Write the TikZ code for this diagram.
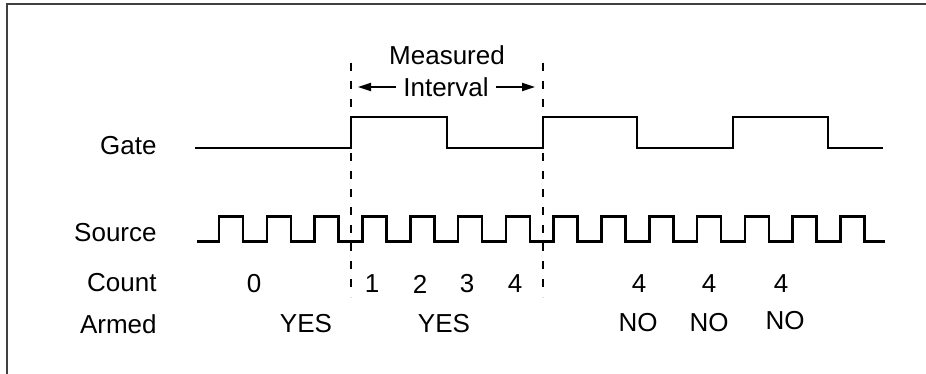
\documentclass[tikz,border=0pt]{standalone}
\usepackage{fontspec}
\setmainfont{Liberation Sans}
\usetikzlibrary{arrows.meta}
\begin{document}
\begin{tikzpicture}[x=0.5pt,y=-0.5pt,>={Triangle[length=6.5pt,width=4pt]},
		every node/.style={font=\fontsize{13}{15}\selectfont},
		wave/.style={line width=1.3pt},
		cutline/.style={line width=0.6pt,dash pattern=on 4pt off 5pt},
		lbl/.style={anchor=east,inner sep=0pt}]
	\useasboundingbox (0,0) rectangle (926,374);
	% frame
	\draw[line width=0.8pt, black!75] (7,374) -- (7,4) -- (926,4);
	% row labels
	\node[lbl] (gate) at (157,146) {Gate};
	\node[lbl] (source) at (157,233) {Source};
	\node[lbl] (count) at (157,283) {Count};
	\node[lbl] (armed) at (157,324) {Armed};
	% gate signal
	\draw[wave] (195,148) -- (351,148) -- (351,117) -- (447,117) -- (447,148) -- (543,148) -- (543,117)
		-- (637,117) -- (637,148) -- (733,148) -- (733,117) -- (828,117) -- (828,148) -- (883,148);
	% source clock
	\draw[wave] (197,241.5) \foreach \k in {0,...,13} {
			-- ({219+47.8*\k},241.5) -- ++(0,-25) -- ++(24,0) -- ++(0,25)} -- (885,241.5);
	% interval markers
	\draw[cutline] (351,63) -- (351,297);
	\draw[cutline] (543,63) -- (543,297);
	\node (meas) at (447,55) {Measured};
	\node (intv) at (446,87) {Interval};
	\coordinate (lend) at (358,87);
	\coordinate (rend) at (535,87);
	\draw[->, line width=0.9pt] (intv.west) -- (lend);
	\draw[->, line width=0.9pt] (intv.east) -- (rend);
	% counts
	\node (c0) at (254,284) {0};
	\node (c1) at (372,284) {1};
	\node (c2) at (420,284) {2};
	\node (c3) at (467,284) {3};
	\node (c4) at (515,284) {4};
	\node (c5) at (639,284) {4};
	\node (c6) at (709,284) {4};
	\node (c7) at (781,284) {4};
	% armed state
	\node (a1) at (306,324) {YES};
	\node (a2) at (444,324) {YES};
	\node (a3) at (638,323) {NO};
	\node (a4) at (709,323) {NO};
	\node (a5) at (785,321) {NO};
\end{tikzpicture}
\end{document}
